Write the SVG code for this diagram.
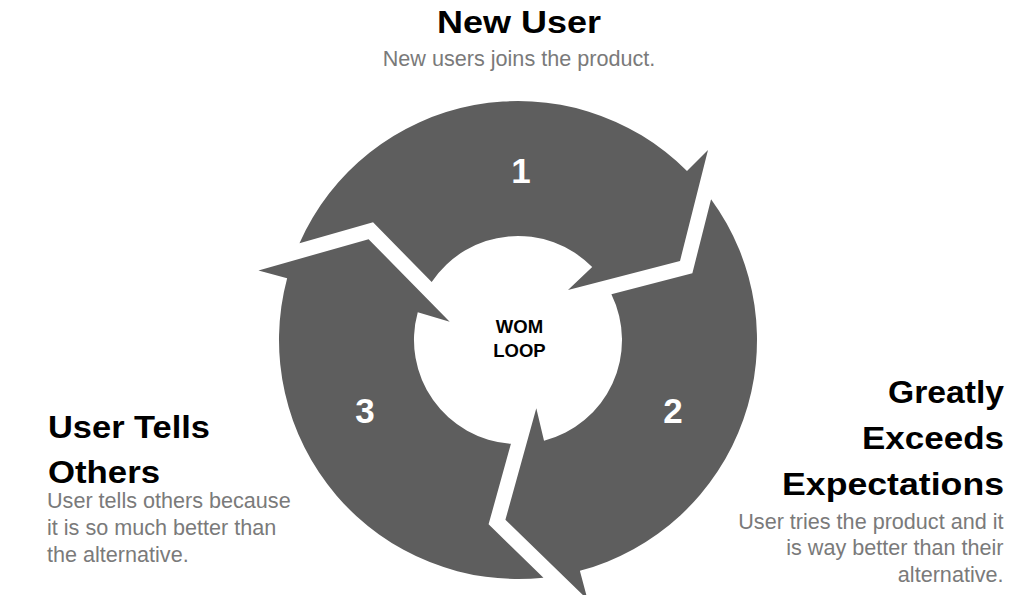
<svg xmlns="http://www.w3.org/2000/svg" width="1024" height="595" viewBox="0 0 1024 595">
  <style>
    .arrow { fill: #5e5e5e; }
    .title { font-family: "Liberation Sans", Arial, sans-serif; font-weight: bold; font-size: 32px; fill: #000000; }
    .desc { font-family: "Liberation Sans", Arial, sans-serif; font-size: 21.6px; fill: #7a7a7a; }
    .num { font-family: "Liberation Sans Narrow", "Liberation Sans", Arial, sans-serif; font-weight: bold; font-size: 35px; fill: #ffffff; text-anchor: middle; }
    .center { font-family: "Liberation Sans", Arial, sans-serif; font-weight: bold; font-size: 18.5px; fill: #000000; text-anchor: middle; }
  </style>
  <defs>
    <path id="arrowShape" d="M -218.53 -96.77 A 239 239 0 0 1 169.0 -169.0 L 190 -190 L 162 -79 L 50 -50 L 74.2 -72.9 A 104 104 0 0 0 -86.32 -58.0 L -144.96 -117.65 Z"/>
  </defs>
  <rect x="0" y="0" width="1024" height="595" fill="#ffffff"/>

  <g id="connectors" transform="translate(518,340)">
    <use href="#arrowShape" class="arrow"/>
    <use href="#arrowShape" class="arrow" transform="rotate(120)"/>
    <use href="#arrowShape" class="arrow" transform="rotate(240)"/>
  </g>

  <g id="node-step-numbers">
    <text class="num" x="521" y="183">1</text>
    <text class="num" x="673" y="423">2</text>
    <text class="num" x="365" y="423">3</text>
  </g>

  <g id="node-wom-loop">
    <text class="center" x="519.5" y="333">WOM</text>
    <text class="center" x="519.5" y="357">LOOP</text>
  </g>

  <g id="node-new-user">
    <text class="title" x="519" y="33" text-anchor="middle" textLength="164" lengthAdjust="spacingAndGlyphs">New User</text>
    <text class="desc" x="519" y="65.5" text-anchor="middle">New users joins the product.</text>
  </g>

  <g id="node-exceeds">
    <text class="title" x="1004" y="403" text-anchor="end" textLength="116" lengthAdjust="spacingAndGlyphs">Greatly</text>
    <text class="title" x="1004" y="448.5" text-anchor="end" textLength="142" lengthAdjust="spacingAndGlyphs">Exceeds</text>
    <text class="title" x="1004" y="494.5" text-anchor="end" textLength="222" lengthAdjust="spacingAndGlyphs">Expectations</text>
    <text class="desc" x="1003.5" y="528.5" text-anchor="end">User tries the product and it</text>
    <text class="desc" x="1003.5" y="555" text-anchor="end">is way better than their</text>
    <text class="desc" x="1003.5" y="581.5" text-anchor="end">alternative.</text>
  </g>

  <g id="node-user-tells">
    <text class="title" x="48" y="438" textLength="162" lengthAdjust="spacingAndGlyphs">User Tells</text>
    <text class="title" x="48" y="483" textLength="112" lengthAdjust="spacingAndGlyphs">Others</text>
    <text class="desc" x="47" y="507.5">User tells others because</text>
    <text class="desc" x="47" y="534.5">it is so much better than</text>
    <text class="desc" x="47" y="561.5">the alternative.</text>
  </g>
</svg>
